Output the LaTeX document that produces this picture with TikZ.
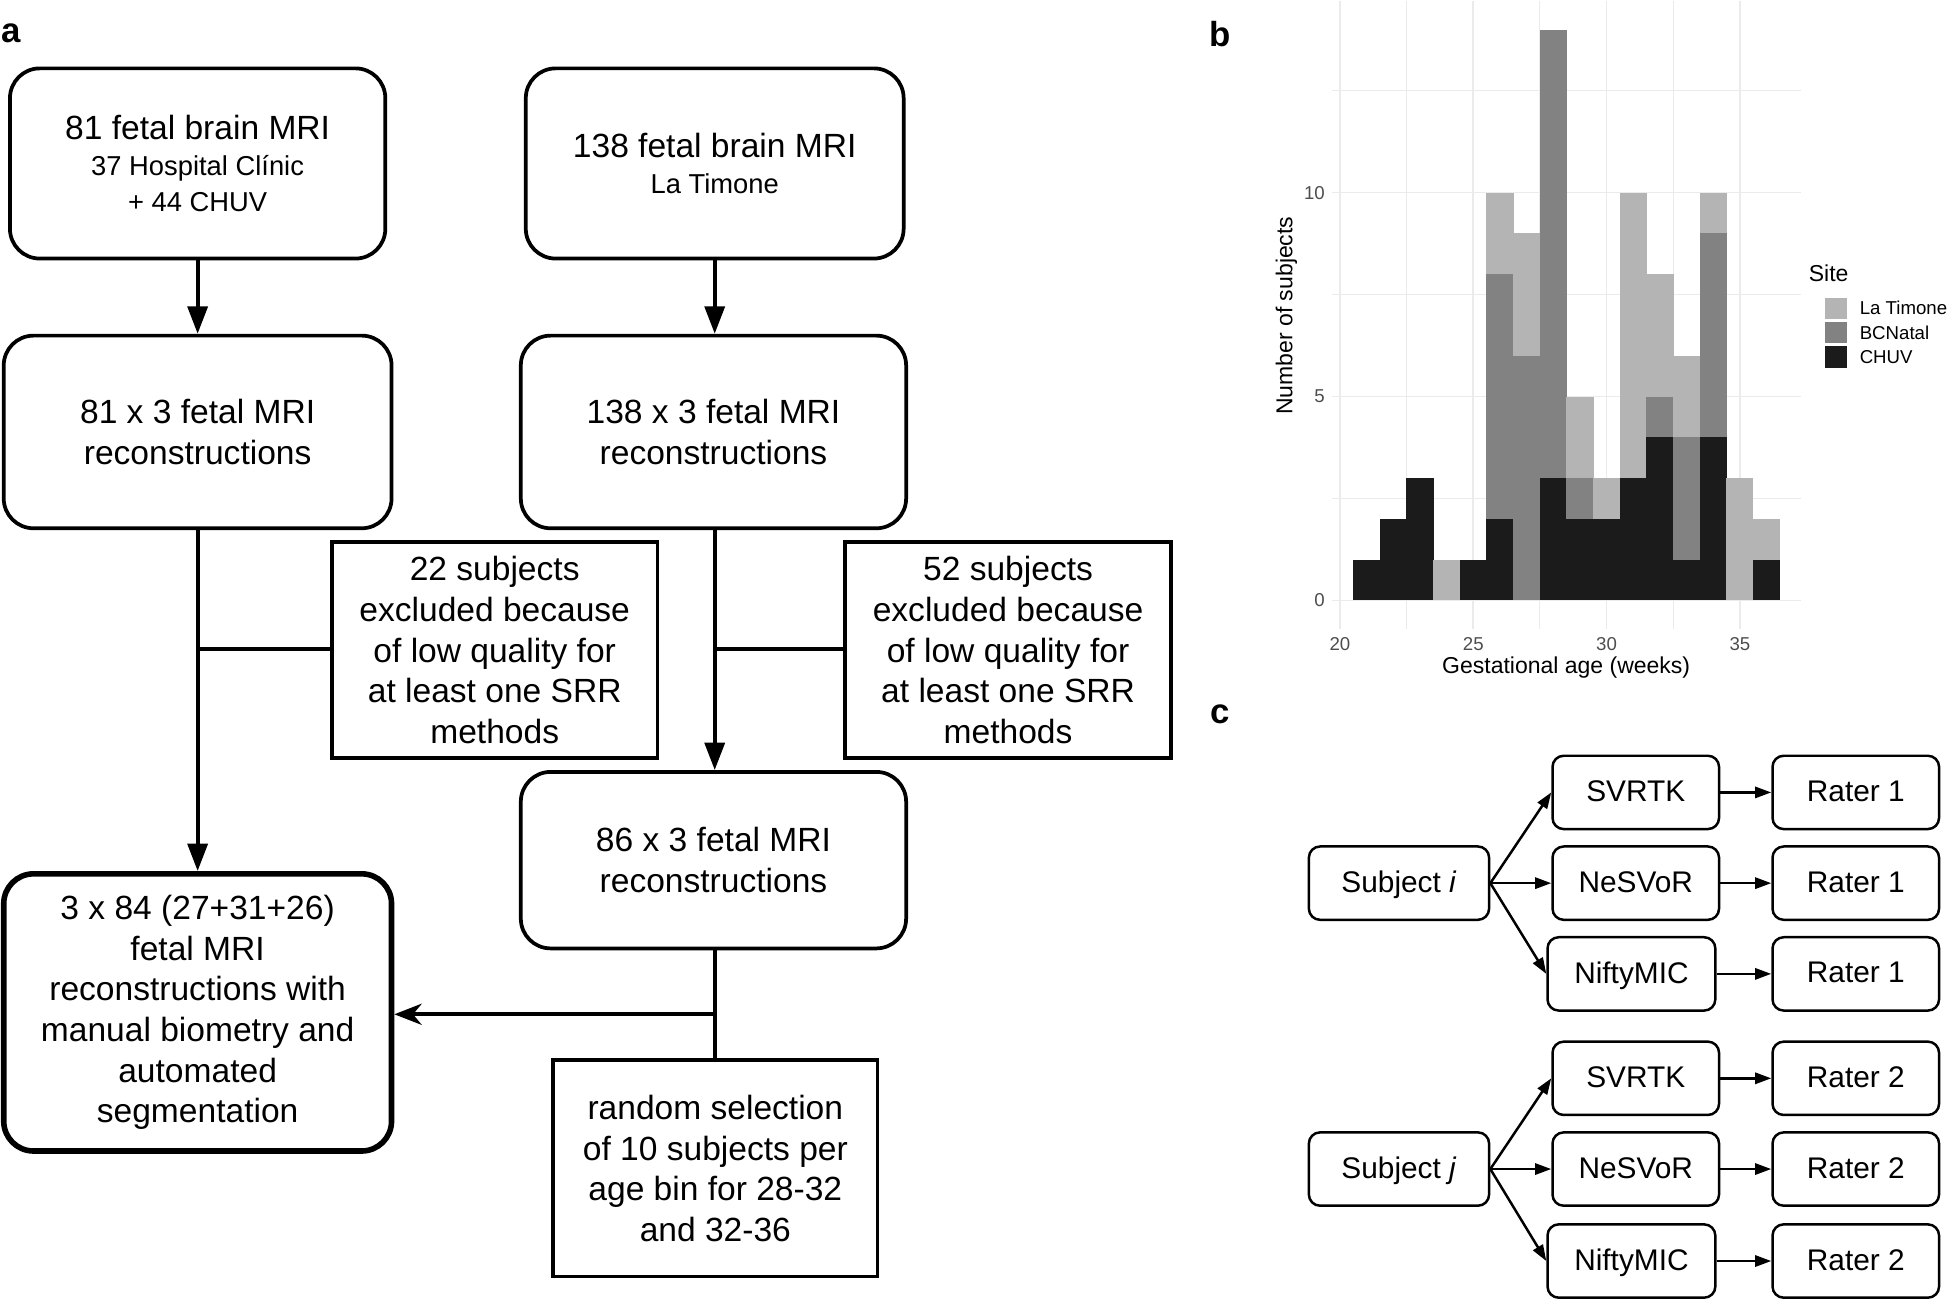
\documentclass[tikz,border=0pt]{standalone}
\usepackage{fontspec}
\setmainfont{Liberation Sans}
\usetikzlibrary{arrows.meta}
\definecolor{ltcol}{HTML}{B4B4B4}
\definecolor{bccol}{HTML}{828282}
\definecolor{chcol}{HTML}{1B1B1B}
\definecolor{gridcol}{HTML}{EBEBEB}
\definecolor{tickcol}{HTML}{4D4D4D}
\tikzset{
 abox/.style={draw, line width=3pt, rounded corners=24pt, align=center, inner sep=0pt, font=\fontsize{27}{32.75}\selectfont},
 asq/.style={draw, line width=3pt, align=center, inner sep=0pt, font=\fontsize{27}{32.75}\selectfont},
 aarr/.style={line width=3pt, -{Triangle[length=22pt,width=16pt]}},
 aline/.style={line width=3pt},
 cbox/.style={draw, line width=2pt, rounded corners=9pt, inner sep=0pt, font=\fontsize{24}{28}\selectfont, minimum width=134pt, minimum height=59pt, text depth=2pt},
 carr/.style={line width=2pt, -{Triangle[length=13pt,width=9pt]}},
 plabel/.style={font=\fontsize{28}{30}\selectfont\bfseries, inner sep=0pt},
 ticklab/.style={font=\fontsize{15}{17}\selectfont, text=tickcol, inner sep=0pt},
 axtitle/.style={font=\fontsize{18.5}{20}\selectfont, inner sep=0pt},
 leglab/.style={font=\fontsize{15}{17}\selectfont, inner sep=0pt, anchor=west},
}
\begin{document}
\begin{tikzpicture}[x=1pt,y=-1pt]
\useasboundingbox (0,0) rectangle (1568,1045);
\clip (0,0) rectangle (1568,1045);
% ---------------- panel a ----------------
\node[plabel] (la) at (9,27) {a};
\node[abox, minimum width=302pt, minimum height=153pt] (b1) at (159,131.5)
  {81 fetal brain MRI\\[-4pt]\fontsize{22}{26}\selectfont 37 Hospital Clínic\\[-4pt]\fontsize{22}{26}\selectfont + 44 CHUV};
\node[abox, minimum width=304pt, minimum height=153pt] (b2) at (575,131.5)
  {138 fetal brain MRI\\[-4pt]\fontsize{22}{26}\selectfont La Timone};
\node[abox, minimum width=312pt, minimum height=155pt] (b3) at (159,347.5)
  {81 x 3 fetal MRI\\reconstructions};
\node[abox, minimum width=310pt, minimum height=155pt] (b4) at (574,347.5)
  {138 x 3 fetal MRI\\reconstructions};
\node[asq, minimum width=262pt, minimum height=174pt] (e1) at (398,523)
  {22 subjects\\excluded because\\of low quality for\\at least one SRR\\methods};
\node[asq, minimum width=262pt, minimum height=174pt] (e2) at (811,523)
  {52 subjects\\excluded because\\of low quality for\\at least one SRR\\methods};
\node[abox, minimum width=310pt, minimum height=142pt] (b6) at (574,692)
  {86 x 3 fetal MRI\\reconstructions};
\node[abox, line width=4.5pt, minimum width=312pt, minimum height=223pt] (b5) at (159,814.5)
  {3 x 84 (27+31+26)\\fetal MRI\\reconstructions with\\manual biometry and\\automated\\segmentation};
\node[asq, minimum width=261pt, minimum height=174pt] (b7) at (575.5,940)
  {random selection\\of 10 subjects per\\age bin for 28-32\\and 32-36};
\coordinate (j1) at (159,522);
\coordinate (j2) at (575,522);
\coordinate (j3) at (575,816);
\draw[aarr] (b1.south) -- (b3.north);
\draw[aarr] (b2.south) -- (b2.south |- b4.north);
\draw[aarr] (b3.south) -- (b5.north);
\draw[aline] (j1) -- (j1 -| e1.west);
\draw[aarr] (b4.south -| j2) -- (j2 |- b6.north);
\draw[aline] (j2) -- (j2 -| e2.west);
\draw[aline] (b6.south -| j3) -- (j3 |- b7.north);
\draw[line width=3pt, -{Stealth[length=22pt,width=17pt,inset=7pt]}] (j3) -- (j3 -| b5.east);
% ---------------- panel b ----------------
\node[plabel] (lb) at (982,27) {b};
\begin{scope}[shift={(1078pt,-483pt)}, x=21.45pt, y=32.8pt]
  \foreach \v in {2.5,7.5,12.5} {
    \draw[gridcol, line width=0.7pt] (\v,-0.7) -- (\v,14.7);
    \draw[gridcol, line width=0.7pt] (-0.3,\v) -- (17.3,\v);
  }
  \foreach \v in {0,5,10,15} \draw[gridcol, line width=1.3pt] (\v,-0.7) -- (\v,14.7);
  \foreach \v in {0,5,10} \draw[gridcol, line width=1.3pt] (-0.3,\v) -- (17.3,\v);
  \foreach \w/\c/\b/\l in {21/1/0/0,22/2/0/0,23/3/0/0,24/0/0/1,25/1/0/0,26/2/6/2,27/0/6/3,28/3/11/0,29/2/1/2,30/2/0/1,31/3/0/7,32/4/1/3,33/1/3/2,34/4/5/1,35/0/0/3,36/1/0/1} {
    \pgfmathsetmacro{\xa}{\w-20.5-0.01}
    \pgfmathsetmacro{\xb}{\w-19.5+0.01}
    \pgfmathsetmacro{\cb}{\c+\b}
    \pgfmathsetmacro{\cbl}{\c+\b+\l}
    \ifnum\c>0 \fill[chcol] (\xa,0) rectangle (\xb,\c); \fi
    \ifnum\b>0 \fill[bccol] (\xa,\c) rectangle (\xb,\cb); \fi
    \ifnum\l>0 \fill[ltcol] (\xa,\cb) rectangle (\xb,\cbl); \fi
  }
\end{scope}
\node[ticklab, anchor=east] (y0) at (1066,483) {0};
\node[ticklab, anchor=east] (y5) at (1066,319) {5};
\node[ticklab, anchor=east] (y10) at (1066,155) {10};
\node[ticklab] (x20) at (1078,518) {20};
\node[ticklab] (x25) at (1185.25,518) {25};
\node[ticklab] (x30) at (1292.5,518) {30};
\node[ticklab] (x35) at (1399.75,518) {35};
\node[axtitle] (xt) at (1260,537) {Gestational age (weeks)};
\node[axtitle, rotate=90] (yt) at (1035,254) {Number of subjects};
\node[axtitle, anchor=west] (lt) at (1455,220) {Site};
\fill[ltcol] (1468,240) rectangle (1486,257);
\fill[bccol] (1468,259) rectangle (1486,276);
\fill[chcol] (1468,278) rectangle (1486,296);
\node[leglab] (l1) at (1496,248) {La Timone};
\node[leglab] (l2) at (1496,268) {BCNatal};
\node[leglab] (l3) at (1496,287) {CHUV};
% ---------------- panel c ----------------
\node[plabel] (lc) at (982,575) {c};
\node[cbox, minimum width=145pt] (si) at (1125.5,710.5) {Subject \textit{i}};
\node[cbox] (s1) at (1316,637.5) {SVRTK};
\node[cbox] (n1) at (1316,710.5) {NeSVoR};
\node[cbox, minimum width=135pt] (m1) at (1312.5,783.5) {NiftyMIC};
\node[cbox] (r1) at (1493,637.5) {Rater 1};
\node[cbox] (r2) at (1493,710.5) {Rater 1};
\node[cbox] (r3) at (1493,783.5) {Rater 1};
\node[cbox, minimum width=145pt] (sj) at (1125.5,940.5) {Subject \textit{j}};
\node[cbox] (s2) at (1316,867.5) {SVRTK};
\node[cbox] (n2) at (1316,940.5) {NeSVoR};
\node[cbox, minimum width=135pt] (m2) at (1312.5,1014.5) {NiftyMIC};
\node[cbox] (r4) at (1493,867.5) {Rater 2};
\node[cbox] (r5) at (1493,940.5) {Rater 2};
\node[cbox] (r6) at (1493,1014.5) {Rater 2};
\draw[carr] (si.east) -- (s1.west);
\draw[carr] (si.east) -- (n1.west);
\draw[carr] (si.east) -- (m1.west);
\draw[carr] (sj.east) -- (s2.west);
\draw[carr] (sj.east) -- (n2.west);
\draw[carr] (sj.east) -- (m2.west);
\draw[carr] (s1) -- (r1);
\draw[carr] (n1) -- (r2);
\draw[carr] (m1) -- (r3);
\draw[carr] (s2) -- (r4);
\draw[carr] (n2) -- (r5);
\draw[carr] (m2) -- (r6);
\end{tikzpicture}
\end{document}
